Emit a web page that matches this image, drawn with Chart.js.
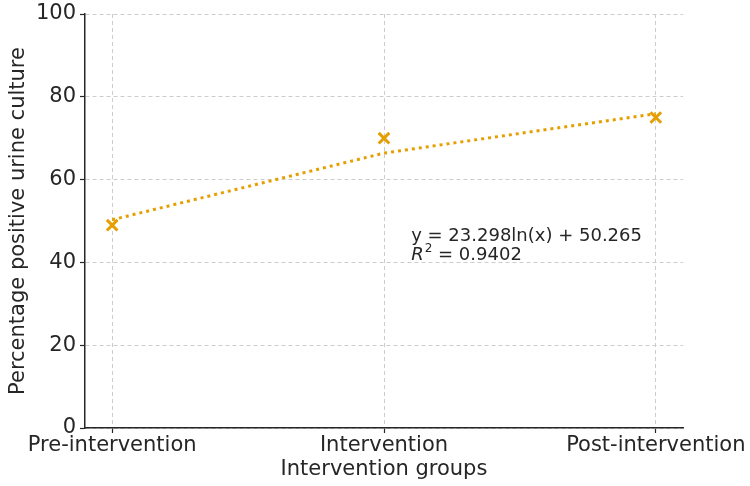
<!DOCTYPE html>
<html>
<head>
<meta charset="utf-8">
<script src="https://cdn.jsdelivr.net/npm/chart.js@4/dist/chart.umd.min.js"></script>
<style>
  body { margin: 0; background: #fff; }
  #wrap { width: 750px; height: 486px; position: relative; }
</style>
</head>
<body>
<div id="wrap"><canvas id="chart"></canvas></div>
<script>
const groups = ['Pre-intervention', 'Intervention', 'Post-intervention'];
const positivePct = [49, 70, 75];
// fitted log trend
const trendPct = [50.3, 66.4, 75.9];
const yTicks = [0, 20, 40, 60, 80, 100];
const equationLines = ['y = 23.298ln(x) + 50.265', 'R² = 0.9402'];
const equationPos = { x: 1.1, y: [46.4, 41.6] };

const orange = '#E69F00';
const font = "'DejaVu Sans', sans-serif";

const equationPlugin = {
  id: 'equation',
  afterDatasetsDraw(chart) {
    const ctx = chart.ctx;
    const xs = chart.scales.x, ys = chart.scales.y;
    const px = xs.getPixelForValue(equationPos.x);
    ctx.save();
    ctx.fillStyle = '#262626';
    ctx.textBaseline = 'middle';
    ctx.font = '18px ' + font;
    ctx.fillText(equationLines[0], px, ys.getPixelForValue(equationPos.y[0]));
    // R² with italic R
    const y2 = ys.getPixelForValue(equationPos.y[1]);
    ctx.font = 'italic 18px ' + font;
    ctx.fillText('R', px, y2);
    let w = ctx.measureText('R').width;
    ctx.font = '12px ' + font;
    ctx.fillText('2', px + w + 1, y2 - 7);
    w += ctx.measureText('2').width + 1;
    ctx.font = '18px ' + font;
    ctx.fillText(equationLines[1].slice(2), px + w, y2);
    ctx.restore();
  }
};

new Chart(document.getElementById('chart'), {
  type: 'line',
  data: {
    datasets: [{
      label: 'Positive urine culture',
      data: positivePct.map((v, i) => ({ x: i, y: v })),
      showLine: false,
      pointStyle: 'crossRot',
      pointRadius: 7.5,
      pointBorderWidth: 3,
      borderColor: orange,
      backgroundColor: orange,
      order: 0
    }, {
      label: 'Trend',
      data: trendPct.map((v, i) => ({ x: i, y: v })),
      borderColor: orange,
      borderWidth: 3,
      borderDash: [3, 4],
      pointRadius: 0,
      fill: false,
      order: 1
    }]
  },
  options: {
    responsive: true,
    maintainAspectRatio: false,
    animation: false,
    layout: { padding: { top: 14, right: 67, left: 0, bottom: 0 } },
    plugins: { legend: { display: false }, tooltip: { enabled: false } },
    scales: {
      x: {
        type: 'linear',
        min: -0.1,
        max: 2.1,
        afterBuildTicks(s) { s.ticks = groups.map((g, i) => ({ value: i })); },
        afterFit(s) { s.height = 58; s.paddingLeft = 0; s.paddingRight = 0; },
        ticks: {
          callback: v => groups[v],
          color: '#262626',
          font: { family: font, size: 21 },
          padding: 0,
          maxRotation: 0,
          autoSkip: false
        },
        grid: { color: '#cccccc', lineWidth: 1, tickColor: '#262626', tickLength: 5, tickWidth: 1.2 },
        border: { display: true, color: '#262626', width: 1.5, dash: [4, 3] },
        title: {
          display: true, text: 'Intervention groups', color: '#262626',
          font: { family: font, size: 21 }, padding: { top: 0, bottom: 4 }
        }
      },
      y: {
        min: 0,
        max: 100,
        afterBuildTicks(s) { s.ticks = yTicks.map(v => ({ value: v })); },
        afterFit(s) { s.width = 85; s.paddingTop = 0; s.paddingBottom = 0; },
        ticks: {
          color: '#262626',
          font: { family: font, size: 21 },
          padding: 4
        },
        grid: { color: '#cccccc', lineWidth: 1, tickColor: '#262626', tickLength: 5, tickWidth: 1.2 },
        border: { display: true, color: '#262626', width: 1.5, dash: [4, 3] },
        title: {
          display: true, text: 'Percentage positive urine culture', color: '#262626',
          font: { family: font, size: 21 }, padding: { top: 6, bottom: 0 }
        }
      }
    }
  },
  plugins: [equationPlugin]
});
</script>
</body>
</html>
